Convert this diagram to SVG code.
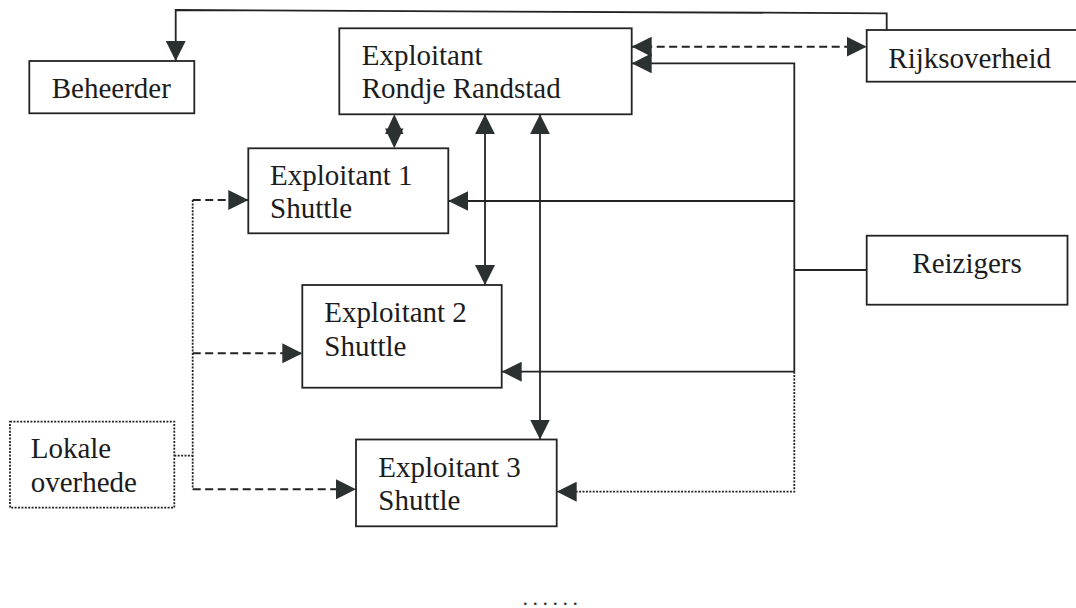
<svg xmlns="http://www.w3.org/2000/svg" width="1076" height="608" viewBox="0 0 1076 608">
<style>
.box{fill:#fff;stroke:#232323;stroke-width:1.8}
.dbox{fill:#fff;stroke:#232323;stroke-width:1.8;stroke-dasharray:2 1.4}
.t{font-family:"Liberation Serif","Times New Roman",serif;font-size:29px;fill:#1c1c1c}
.ln{fill:none;stroke:#232323;stroke-width:1.8}
.dash{fill:none;stroke:#232323;stroke-width:2;stroke-dasharray:8 4.5}
.dot{fill:none;stroke:#232323;stroke-width:1.8;stroke-dasharray:2 1.4}
.ah{fill:#2b3030}
</style>
<defs>
<marker id="arr" markerUnits="userSpaceOnUse" markerWidth="20" markerHeight="20" viewBox="0 0 20 20" refX="20" refY="10" orient="auto-start-reverse">
<path d="M0,0 L20,10 L0,20 Z" class="ah"/>
</marker>
</defs>
<rect width="1076" height="608" fill="#fff"/>
<g id="connectors">
<polyline class="ln" points="886.7,30 886.7,13.3 175.7,10 175.7,61" marker-end="url(#arr)"/>
<line class="dash" x1="631.7" y1="46.7" x2="866.7" y2="46.7" marker-start="url(#arr)" marker-end="url(#arr)"/>
<polyline class="ln" points="794.3,371.7 794.3,63.3 631.7,63.3" marker-end="url(#arr)"/>
<polyline class="ln" points="794.3,201 448.3,201" marker-end="url(#arr)"/>
<polyline class="ln" points="794.3,371.7 501.7,371.7" marker-end="url(#arr)"/>
<line class="ln" x1="794.3" y1="270" x2="866.7" y2="270"/>
<polyline class="dot" points="794.3,371.7 794.3,491.7 556.7,491.7" marker-end="url(#arr)"/>
<line class="ln" x1="485" y1="114.3" x2="485" y2="285" marker-start="url(#arr)" marker-end="url(#arr)"/>
<line class="ln" x1="540" y1="114.3" x2="540" y2="439.5" marker-start="url(#arr)" marker-end="url(#arr)"/>
<path class="ah" d="M394.3,114.3 L403.5,134 L385.1,134 Z"/>
<path class="ah" d="M394.3,148.3 L385.1,128.5 L403.5,128.5 Z"/>
<line class="dot" x1="174.3" y1="455.7" x2="192.7" y2="455.7"/>
<line class="dot" x1="192.7" y1="200" x2="192.7" y2="489.3"/>
<line class="dash" x1="192.7" y1="200" x2="248.3" y2="200" marker-end="url(#arr)"/>
<line class="dash" x1="192.7" y1="353.3" x2="302.3" y2="353.3" marker-end="url(#arr)"/>
<line class="dash" x1="192.7" y1="489.3" x2="356" y2="489.3" marker-end="url(#arr)"/>
</g>
<g id="beheerder">
<rect class="box" x="29.3" y="61" width="165" height="52.3"/>
<text class="t" x="51.7" y="98.3">Beheerder</text>
</g>
<g id="rondje">
<rect class="box" x="339.3" y="28.3" width="292.4" height="86"/>
<text class="t" x="361.7" y="65">Exploitant</text>
<text class="t" x="361.7" y="98.3">Rondje Randstad</text>
</g>
<g id="rijksoverheid">
<rect class="box" x="866.7" y="30" width="220" height="51.7"/>
<text class="t" x="888.3" y="68.3">Rijksoverheid</text>
</g>
<g id="exploitant1">
<rect class="box" x="248.3" y="148.3" width="200" height="85"/>
<text class="t" x="270" y="185">Exploitant 1</text>
<text class="t" x="270" y="218.3">Shuttle</text>
</g>
<g id="reizigers">
<rect class="box" x="866.7" y="235.7" width="200.8" height="69"/>
<text class="t" x="912.3" y="273.3">Reizigers</text>
</g>
<g id="exploitant2">
<rect class="box" x="302.3" y="285" width="199.4" height="102.7"/>
<text class="t" x="324.3" y="321.7">Exploitant 2</text>
<text class="t" x="324.3" y="356">Shuttle</text>
</g>
<g id="exploitant3">
<rect class="box" x="356" y="439.5" width="200.7" height="86.8"/>
<text class="t" x="378.3" y="476.7">Exploitant 3</text>
<text class="t" x="378.3" y="510">Shuttle</text>
</g>
<g id="lokale">
<rect class="dbox" x="10" y="421.7" width="164.3" height="86"/>
<text class="t" x="30.7" y="458.3">Lokale</text>
<text class="t" x="30.7" y="491.7">overhede</text>
</g>
<text x="522.5" y="605" style="font-family:'Liberation Serif',serif;font-size:22px;fill:#333;letter-spacing:4.5px">......</text>
</svg>
